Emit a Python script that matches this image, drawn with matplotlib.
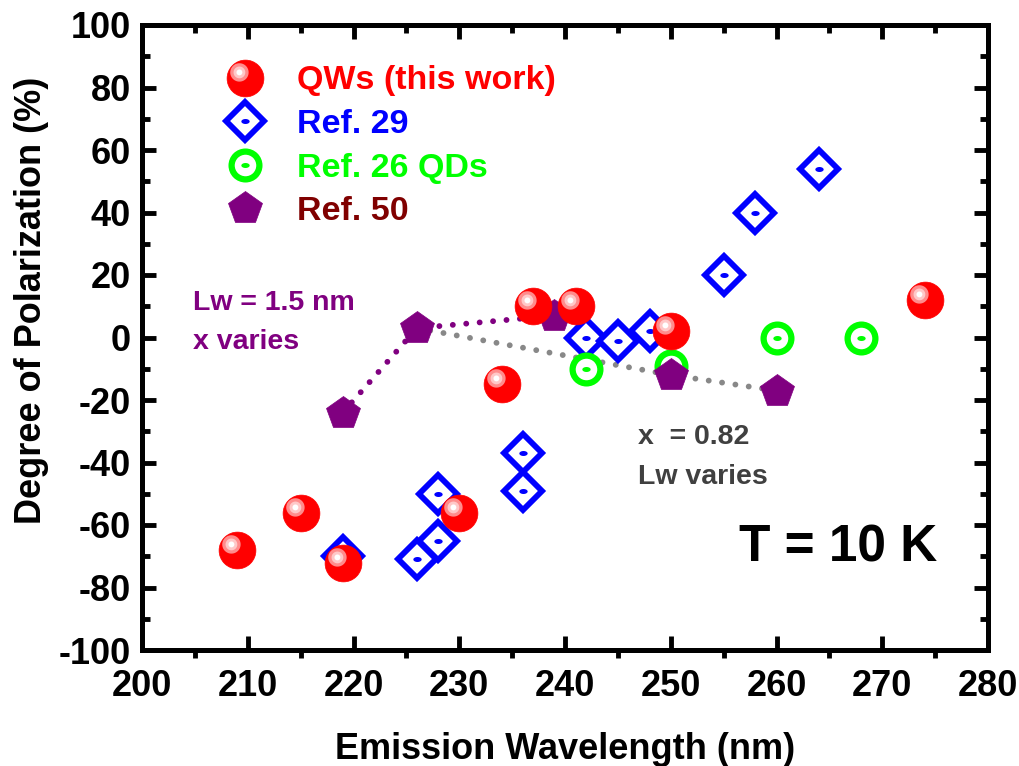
import matplotlib
matplotlib.use("Agg")
import matplotlib.pyplot as plt
import numpy as np
from matplotlib.path import Path
from matplotlib.lines import Line2D
from matplotlib.legend_handler import HandlerTuple

plt.rcParams['font.family'] = ['Liberation Sans', 'DejaVu Sans']
plt.rcParams['font.weight'] = 'bold'
plt.rcParams['axes.labelweight'] = 'bold'
plt.rcParams['axes.unicode_minus'] = False

# data
qw_x = [209, 215, 219, 230, 234, 237, 241, 250, 274]
qw_y = [-68, -56, -72, -56, -15, 10, 10, 2, 12]

ref29_x = [219, 226, 228, 228, 236, 236, 242, 245, 248, 255, 258, 264]
ref29_y = [-70, -71, -65, -50, -49, -37, 0, -1, 2, 20, 40, 54]

ref26_x = [242, 250, 260, 268]
ref26_y = [-10, -9, 0, 0]

ref50_x = [219, 226, 239, 250, 260]
ref50_y = [-24, 3, 7, -12, -17]

# dotted guide lines (through the Ref. 50 points)
xvar_x = [219, 226, 239]
xvar_y = [-24, 3, 7]
lwvar_x = [226, 250, 260]
lwvar_y = [3, -12, -17]

xticks = np.arange(200, 281, 10)
yticks = np.arange(-100, 101, 20)


def circle_path(cx, cy, r, n=60):
    t = np.linspace(0, 2 * np.pi, n)
    v = np.column_stack([cx + r * np.cos(t), cy + r * np.sin(t)])
    return v


def highlight_marker(r):
    # keeps the sphere's frame (-1..1) so the spot lands up-left of centre
    v = np.vstack([[[1, 1]], [[-1, -1]], circle_path(-0.33, 0.33, r)])
    codes = [Path.MOVETO, Path.MOVETO, Path.MOVETO] + [Path.LINETO] * (len(v) - 3)
    return Path(v, codes)


ellipse = Path(np.column_stack([np.cos(np.linspace(0, 2*np.pi, 40)),
                                0.6 * np.sin(np.linspace(0, 2*np.pi, 40))]))

fig = plt.figure(figsize=(10.2, 7.66), dpi=100)
ax = fig.add_axes([142/1020, 1 - 650/766, 846/1020, 625/766])

dot = dict(linestyle=(0, (0.01, 2.3)), dash_capstyle='round', lw=4.2)
ax.plot(lwvar_x, lwvar_y, color='#888888', zorder=1, **dot)
ax.plot(xvar_x, xvar_y, color='#800080', zorder=1, **dot)

blue_kw = dict(marker='D', ms=19, mfc='white', mec='#0000ff', mew=4.2, ls='none')
blue_dot = dict(marker=ellipse, ms=6, mfc='#0000ff', mec='none', ls='none')
green_kw = dict(marker='o', ms=20, mfc='white', mec='#00ff00', mew=4.5, ls='none')
green_dot = dict(marker=ellipse, ms=6, mfc='#00ff00', mec='none', ls='none')
purple_kw = dict(marker='p', ms=25, mfc='#800080', mec='#800080', mew=0.5, ls='none')
red_kw = dict(marker='o', ms=26.5, mfc='#ff0000', mec='#ff0000', mew=0.5, ls='none')
hl1 = dict(marker=highlight_marker(0.5), ms=26.5, mfc='#ff8c8c', mec='none', ls='none')
hl2 = dict(marker=highlight_marker(0.32), ms=26.5, mfc='#ffc8c8', mec='none', ls='none')
hl3 = dict(marker=highlight_marker(0.16), ms=26.5, mfc='white', mec='none', ls='none')

ax.plot(ref29_x, ref29_y, zorder=3, **blue_kw)
ax.plot(ref29_x, ref29_y, zorder=3, **blue_dot)
ax.plot(ref26_x, ref26_y, zorder=4, **green_kw)
ax.plot(ref26_x, ref26_y, zorder=4, **green_dot)
ax.plot(ref50_x, ref50_y, zorder=5, **purple_kw)
ax.plot(qw_x, qw_y, zorder=6, **red_kw)
ax.plot(qw_x, qw_y, zorder=6, **hl1)
ax.plot(qw_x, qw_y, zorder=6, **hl2)
ax.plot(qw_x, qw_y, zorder=6, **hl3)

ax.set_xlim(200, 280)
ax.set_ylim(-100, 100)
ax.set_xticks(xticks)
ax.set_yticks(yticks)
ax.set_xticks(np.arange(205, 280, 10), minor=True)
ax.set_yticks(np.arange(-90, 100, 20), minor=True)
ax.tick_params(which='both', labelsize=26, width=3.5)
ax.tick_params(axis='y', which='both', direction='in', right=True, pad=8)
ax.tick_params(which='major', length=10)
ax.tick_params(which='minor', length=6)
ax.tick_params(axis='x', which='major', direction='in', pad=14)
ax.tick_params(axis='x', which='minor', direction='out', pad=14)
for s in ax.spines.values():
    s.set_linewidth(3.6)

top = ax.secondary_xaxis('top')
top.set_xticks(xticks)
top.set_xticks(np.arange(205, 280, 10), minor=True)
top.tick_params(which='both', direction='in', width=3.5, labeltop=False)
top.tick_params(which='major', length=10)
top.tick_params(which='minor', length=6)
top.spines['top'].set_linewidth(3.6)

ax.set_xlabel('Emission Wavelength (nm)', fontsize=26, labelpad=20)
ax.set_ylabel('Degree of Polarization (%)', fontsize=26)
ax.yaxis.set_label_coords(-0.11, 0.56)

ax.text(204.8, 11, 'Lw = 1.5 nm', color='#800080', fontsize=20.5, va='center')
ax.text(204.8, -1.5, 'x varies', color='#800080', fontsize=20.5, va='center')
ax.text(246.9, -32, 'x  = 0.82', color='#404040', fontsize=20.5, va='center')
ax.text(246.9, -44.5, 'Lw varies', color='#404040', fontsize=20.5, va='center')
ax.text(256.5, -67.5, 'T = 10 K', color='black', fontsize=37, va='center')

h_red = (Line2D([], [], **red_kw), Line2D([], [], **hl1),
         Line2D([], [], **hl2), Line2D([], [], **hl3))
h_blue = (Line2D([], [], **blue_kw), Line2D([], [], **blue_dot))
h_green = (Line2D([], [], **green_kw), Line2D([], [], **green_dot))
h_purple = Line2D([], [], **purple_kw)
ax.legend([h_red, h_blue, h_green, h_purple],
          ['QWs (this work)', 'Ref. 29', 'Ref. 26 QDs', 'Ref. 50'],
          handler_map={tuple: HandlerTuple(ndivide=1, pad=0)},
          labelcolor=['#ff0000', '#0000ff', '#00ff00', '#800000'],
          loc='upper left', bbox_to_anchor=(0.073, 0.957), frameon=False,
          fontsize=24.5, handlelength=1.6, handletextpad=0.74, labelspacing=0.37,
          borderaxespad=0)

fig.savefig('out.png', dpi=100)
